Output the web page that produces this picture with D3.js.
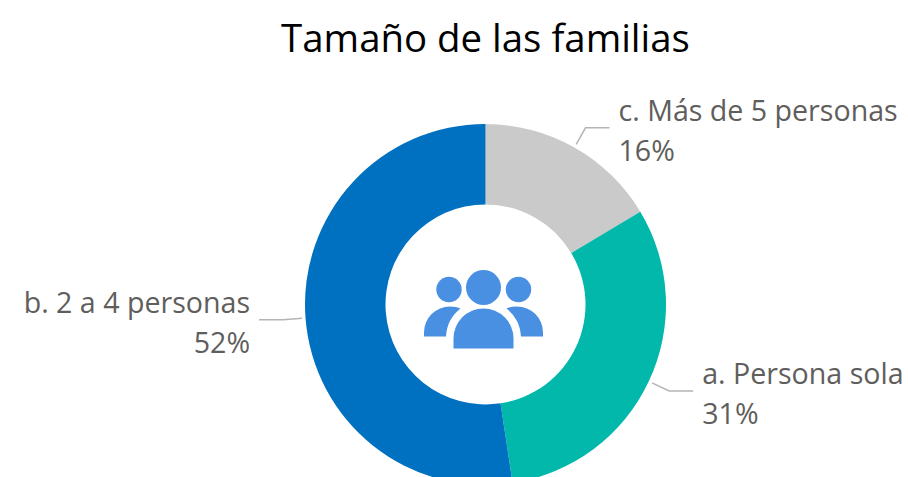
<!DOCTYPE html>
<html>
<head>
<meta charset="utf-8">
<script src="https://cdn.jsdelivr.net/npm/d3@7"></script>
<style>
    html, body { margin: 0; padding: 0; background: #fff; overflow: hidden; }
    text { font-family: "Open Sans", sans-serif; }
</style>
</head>
<body>
<div id="chart"></div>
<script>
var titleText = "Tamaño de las familias";
var categories = ["c. Más de 5 personas", "a. Persona sola", "b. 2 a 4 personas"];
var values = [16.4, 31.2, 52.4];
var colors = ["#cacaca", "#01b8aa", "#0070c0"];

var width = 908;
var height = 477;
var cx = 485.5;
var cy = 304.5;
var outerRadius = 180.5;
var innerRadius = 100;
var labelSize = 28.6;
var lineGap = 40;

var svg = d3.select("#chart").append("svg")
    .attr("width", width)
    .attr("height", height)
    .style("display", "block");

svg.append("text")
    .attr("x", 485.5)
    .attr("y", 52)
    .attr("text-anchor", "middle")
    .attr("font-size", 38.4)
    .attr("fill", "#000")
    .text(titleText);

var pie = d3.pie().sort(null).value(function (d) { return d; });
var arc = d3.arc().innerRadius(innerRadius).outerRadius(outerRadius);
var arcs = pie(values);

var g = svg.append("g").attr("transform", "translate(" + cx + "," + cy + ")");

g.selectAll("path.slice")
    .data(arcs)
    .enter().append("path")
    .attr("class", "slice")
    .attr("d", arc)
    .attr("fill", function (d, i) { return colors[i]; });

// leader lines leave the ring at the middle of each slice
function polar(angle, r) {
    return [Math.sin(angle) * r, -Math.cos(angle) * r];
}

var line = d3.line();

var labels = g.selectAll("g.label")
    .data(arcs)
    .enter().append("g")
    .attr("class", "label");

labels.append("path")
    .attr("fill", "none")
    .attr("stroke", "#b4b4b4")
    .attr("stroke-width", 1.5)
    .attr("d", function (d) {
        var mid = (d.startAngle + d.endAngle) / 2;
        var side = mid < Math.PI ? 1 : -1;
        var a = polar(mid, 184);
        var b = polar(mid, 203);
        return line([a, b, [b[0] + side * 24, b[1]]]);
    });

labels.each(function (d, i) {
    var mid = (d.startAngle + d.endAngle) / 2;
    var side = mid < Math.PI ? 1 : -1;
    var b = polar(mid, 203);
    var t = d3.select(this).append("text")
        .attr("font-size", labelSize)
        .attr("fill", "#605e5c")
        .attr("text-anchor", side > 0 ? "start" : "end")
        .attr("transform", "translate(" + (b[0] + side * 33) + "," + (b[1] - 6.5) + ")");
    t.append("tspan").attr("x", 0).attr("y", 0).text(categories[i]);
    t.append("tspan").attr("x", 0).attr("y", lineGap).text(d3.format(".0f")(values[i]) + "%");
});

// people icon in the hole
var icon = g.append("g").attr("fill", "#4a90e2");
icon.append("circle").attr("cx", -2).attr("cy", -17).attr("r", 17.5);
icon.append("circle").attr("cx", -36.5).attr("cy", -15).attr("r", 12.7);
icon.append("circle").attr("cx", 33).attr("cy", -15).attr("r", 12.7);
icon.append("path").attr("d", "M-32,44 V34 A30,30 0 0 1 28,34 V44 Z");
icon.append("path").attr("d", "M-61.5,32 V28 A26,26 0 0 1 -35.5,2 Q-29,2 -25,4 A38,38 0 0 0 -39.5,32 Z");
icon.append("path").attr("d", "M57.5,32 V28 A26,26 0 0 0 31.5,2 Q25,2 21,4 A38,38 0 0 1 35.5,32 Z");
</script>
</body>
</html>
